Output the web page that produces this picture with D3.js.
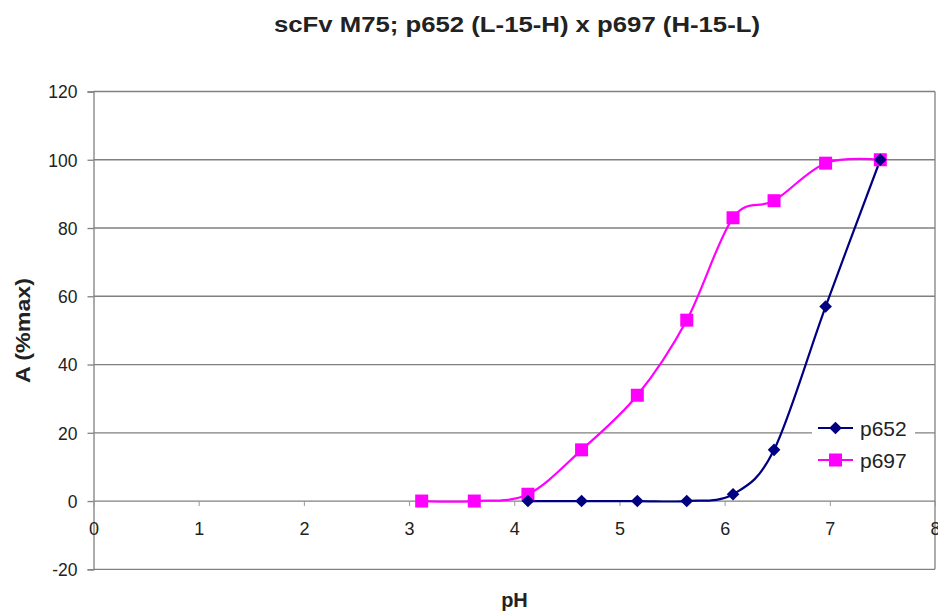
<!DOCTYPE html>
<html>
<head>
<meta charset="utf-8">
<script src="https://cdn.jsdelivr.net/npm/d3@7"></script>
<style>
  html, body { margin: 0; padding: 0; background: #fff; }
  svg { display: block; font-family: "Liberation Sans", Arial, sans-serif; }
</style>
</head>
<body>
<svg id="chart" width="938" height="612"></svg>
<script>
// pH titration: binding signal as % of maximum
const pH_p697 = [3.12, 3.62, 4.13, 4.64, 5.17, 5.64, 6.08, 6.47, 6.96, 7.48];
const A_p697  = [0, 0, 2, 15, 31, 53, 83, 88, 99, 100];
const pH_p652 = [4.13, 4.64, 5.17, 5.64, 6.08, 6.47, 6.96, 7.48];
const A_p652  = [0, 0, 0, 0, 2, 15, 57, 100];
const xTicks = [0, 1, 2, 3, 4, 5, 6, 7, 8];
const yTicks = [-20, 0, 20, 40, 60, 80, 100, 120];
const seriesNames = ["p652", "p697"];

const svg = d3.select("#chart");
const plotLeft = 93.5, plotRight = 935, plotTop = 91.5, plotBottom = 569.3;

const x = d3.scaleLinear().domain([0, 8]).range([plotLeft, plotRight]);
const y = d3.scaleLinear().domain([-20, 120]).range([plotBottom, plotTop]);

const gridColor = "#808080";
const textColor = "#222";

// horizontal gridlines (top and bottom ones close the plot frame)
svg.append("g").selectAll("line").data(yTicks).join("line")
  .attr("x1", plotLeft).attr("x2", plotRight)
  .attr("y1", d => y(d)).attr("y2", d => y(d))
  .attr("stroke", gridColor).attr("stroke-width", 1.3);

// right edge of plot area
svg.append("line")
  .attr("x1", plotRight).attr("x2", plotRight).attr("y1", plotTop).attr("y2", plotBottom)
  .attr("stroke", gridColor).attr("stroke-width", 1.3);

// y axis (plain hyphen for negative numbers)
const yAxis = svg.append("g")
  .attr("transform", `translate(${plotLeft},0)`)
  .call(d3.axisLeft(y).tickValues(yTicks).tickSize(6).tickPadding(10).tickFormat(d => String(d)));
yAxis.select(".domain").attr("stroke", gridColor).attr("stroke-width", 1.3);
yAxis.selectAll(".tick line").attr("stroke", gridColor).attr("stroke-width", 1.3);
yAxis.selectAll(".tick text")
  .attr("fill", textColor)
  .style("font-size", "17.5px")
  .attr("dy", "0.36em");

// x axis crossing at y = 0
const xAxis = svg.append("g")
  .attr("transform", `translate(0,${y(0)})`)
  .call(d3.axisBottom(x).tickValues(xTicks).tickSize(5).tickPadding(16).tickFormat(d => String(d)));
xAxis.select(".domain").remove();
xAxis.selectAll(".tick line").attr("stroke", "#999").attr("stroke-width", 1);
xAxis.selectAll(".tick text")
  .attr("fill", textColor)
  .style("font-size", "18px");

// series
const colors = { p652: "#000080", p697: "#ff00ff" };
const line = d3.line()
  .x(d => x(d[0])).y(d => y(d[1]))
  .curve(d3.curveCatmullRom.alpha(0));

const d697 = d3.zip(pH_p697, A_p697);
const d652 = d3.zip(pH_p652, A_p652);

svg.append("path").datum(d697)
  .attr("d", line).attr("fill", "none")
  .attr("stroke", colors.p697).attr("stroke-width", 2.2);
svg.append("path").datum(d652)
  .attr("d", line).attr("fill", "none")
  .attr("stroke", colors.p652).attr("stroke-width", 2.2);

const sq = 13;
svg.append("g").selectAll("rect").data(d697).join("rect")
  .attr("x", d => x(d[0]) - sq / 2).attr("y", d => y(d[1]) - sq / 2)
  .attr("width", sq).attr("height", sq)
  .attr("fill", colors.p697);

const diamond = d3.symbol().type(d3.symbolSquare).size(80);
svg.append("g").selectAll("path").data(d652).join("path")
  .attr("transform", d => `translate(${x(d[0])},${y(d[1])}) rotate(45)`)
  .attr("d", diamond)
  .attr("fill", colors.p652);

// legend
const lg = svg.append("g");
lg.append("rect")
  .attr("x", 812).attr("y", 410).attr("width", 103).attr("height", 68)
  .attr("fill", "#fff");
seriesNames.forEach((name, i) => {
  const ly = 428 + i * 32;
  lg.append("line")
    .attr("x1", 818).attr("x2", 853).attr("y1", ly).attr("y2", ly)
    .attr("stroke", colors[name]).attr("stroke-width", 2.2);
  if (name === "p652") {
    lg.append("path")
      .attr("transform", `translate(835.5,${ly}) rotate(45)`)
      .attr("d", diamond).attr("fill", colors[name]);
  } else {
    lg.append("rect")
      .attr("x", 835.5 - sq / 2).attr("y", ly - sq / 2)
      .attr("width", sq).attr("height", sq).attr("fill", colors[name]);
  }
  lg.append("text")
    .attr("x", 860).attr("y", ly).attr("dy", "0.36em")
    .attr("fill", textColor).style("font-size", "21px")
    .text(name);
});

// titles
svg.append("text")
  .attr("x", 517).attr("y", 32)
  .attr("text-anchor", "middle")
  .attr("fill", textColor)
  .style("font-size", "22px").style("font-weight", "bold")
  .attr("textLength", 486).attr("lengthAdjust", "spacingAndGlyphs")
  .text("scFv M75; p652 (L-15-H) x p697 (H-15-L)");

svg.append("text")
  .attr("x", 514.5).attr("y", 607)
  .attr("text-anchor", "middle")
  .attr("fill", textColor)
  .style("font-size", "20px").style("font-weight", "bold")
  .text("pH");

svg.append("text")
  .attr("transform", "translate(30,330.5) rotate(-90)")
  .attr("text-anchor", "middle")
  .attr("fill", textColor)
  .style("font-size", "21px").style("font-weight", "bold")
  .attr("textLength", 105).attr("lengthAdjust", "spacingAndGlyphs")
  .text("A (%max)");
</script>
</body>
</html>
